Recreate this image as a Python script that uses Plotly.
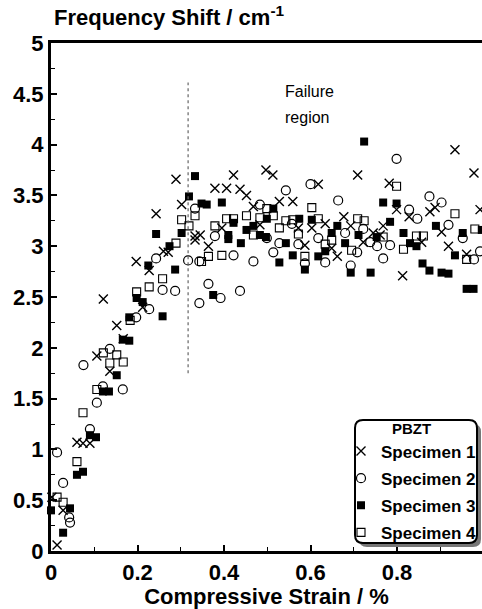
import plotly.graph_objects as go

# ---------------- data (strain %, frequency shift cm^-1) ----------------
s1_x = [0.002, 0.014, 0.028, 0.06, 0.074, 0.09, 0.106, 0.121, 0.136, 0.152, 0.167, 0.197, 0.212,
        0.227, 0.243, 0.26, 0.271, 0.289, 0.302, 0.333, 0.333, 0.345, 0.364, 0.379, 0.395, 0.406,
        0.422, 0.437, 0.452, 0.468, 0.483, 0.497, 0.513, 0.528, 0.559, 0.572, 0.587, 0.603, 0.618,
        0.634, 0.649, 0.662, 0.677, 0.693, 0.709, 0.722, 0.745, 0.761, 0.768, 0.782, 0.799, 0.813,
        0.828, 0.857, 0.876, 0.888, 0.903, 0.919, 0.934, 0.961, 0.978, 0.992]
s1_y = [0.53, 0.06, 0.40, 1.07, 1.06, 1.06, 1.92, 2.48, 1.77, 2.22, 2.09, 2.85, 2.40,
        2.76, 3.32, 2.95, 2.94, 3.66, 3.41, 3.06, 3.10, 3.11, 3.00, 3.57, 3.18, 3.57,
        3.70, 3.56, 3.50, 3.39, 3.21, 3.75, 3.70, 3.44, 3.44, 3.18, 3.01, 3.18, 3.61,
        3.22, 2.98, 2.90, 3.29, 3.20, 3.70, 3.04, 3.13, 3.11, 3.20, 3.62, 3.36, 2.71,
        3.29, 3.04, 3.34, 3.38, 3.14, 3.00, 3.95, 2.92, 3.72, 3.36]

s2_x = [0.014, 0.028, 0.042, 0.044, 0.075, 0.09, 0.106, 0.12, 0.136, 0.166, 0.197, 0.227, 0.243,
        0.258, 0.287, 0.317, 0.333, 0.343, 0.343, 0.364, 0.379, 0.392, 0.422, 0.437, 0.468, 0.483,
        0.499, 0.514, 0.528, 0.543, 0.557, 0.572, 0.587, 0.60, 0.618, 0.634, 0.664, 0.680, 0.693,
        0.708, 0.722, 0.738, 0.754, 0.768, 0.784, 0.799, 0.828, 0.847, 0.875, 0.903, 0.919, 0.952,
        0.978, 0.992]
s2_y = [0.97, 0.67, 0.33, 0.28, 1.83, 1.20, 1.46, 1.62, 1.99, 1.59, 2.30, 2.38, 2.88,
        2.57, 2.56, 2.86, 3.37, 2.85, 2.44, 2.63, 3.10, 2.49, 2.91, 2.56, 2.85, 3.41,
        3.08, 2.94, 3.03, 3.55, 3.22, 3.02, 2.83, 3.61, 3.08, 2.84, 3.45, 3.13, 2.81,
        2.94, 3.17, 3.04, 3.00, 2.88, 3.01, 3.86, 3.36, 3.27, 3.49, 3.43, 3.21, 3.08,
        2.87, 2.95]

s3_x = [0.0, 0.028, 0.044, 0.06, 0.074, 0.09, 0.104, 0.12, 0.134, 0.152, 0.166, 0.181, 0.181,
        0.198, 0.212, 0.225, 0.243, 0.258, 0.274, 0.287, 0.302, 0.319, 0.333, 0.348, 0.36, 0.375,
        0.395, 0.41, 0.41, 0.422, 0.439, 0.452, 0.468, 0.483, 0.497, 0.499, 0.514, 0.528, 0.543,
        0.559, 0.574, 0.587, 0.603, 0.618, 0.634, 0.649, 0.662, 0.680, 0.693, 0.711, 0.724, 0.739,
        0.753, 0.768, 0.784, 0.799, 0.815, 0.830, 0.845, 0.859, 0.875, 0.890, 0.903, 0.919, 0.934,
        0.952, 0.961, 0.977, 0.996]
s3_y = [0.40, 0.18, 0.42, 0.75, 0.78, 1.14, 1.12, 1.57, 1.57, 1.73, 2.08, 2.07, 2.30,
        2.49, 2.45, 2.81, 3.12, 2.31, 3.00, 2.77, 3.13, 3.49, 3.69, 3.42, 3.41, 2.52,
        3.43, 3.11, 3.07, 3.23, 3.03, 3.16, 3.20, 3.11, 3.09, 3.27, 3.37, 2.84, 3.03,
        2.91, 3.27, 2.77, 3.26, 2.90, 2.95, 3.13, 3.20, 3.03, 2.74, 3.11, 4.03, 2.74,
        3.09, 3.43, 3.24, 3.42, 3.13, 3.03, 3.00, 2.83, 2.76, 3.20, 2.74, 2.73, 2.91,
        3.13, 2.58, 2.58, 3.16]

s4_x = [0.014, 0.028, 0.06, 0.074, 0.106, 0.121, 0.136, 0.152, 0.167, 0.183, 0.198, 0.227, 0.258,
        0.289, 0.302, 0.319, 0.333, 0.348, 0.364, 0.379, 0.395, 0.406, 0.422, 0.452, 0.468, 0.483,
        0.499, 0.514, 0.528, 0.543, 0.559, 0.572, 0.587, 0.603, 0.618, 0.634, 0.649, 0.695, 0.709,
        0.724, 0.768, 0.799, 0.815, 0.845, 0.861, 0.934, 0.961, 0.980]
s4_y = [0.53, 0.48, 0.88, 1.36, 1.59, 1.95, 1.85, 1.93, 1.86, 2.27, 2.55, 2.60, 2.68,
        3.03, 3.26, 3.20, 3.30, 2.85, 2.90, 3.20, 2.91, 3.27, 3.27, 3.30, 3.11, 3.28,
        3.37, 3.30, 3.18, 3.25, 3.26, 3.12, 2.90, 3.38, 3.27, 3.02, 3.06, 2.96, 3.27,
        3.25, 3.09, 3.59, 2.97, 3.10, 3.10, 3.32, 2.87, 3.17]

series_names = ["Specimen 1", "Specimen 2", "Specimen 3", "Specimen 4"]
x_ticks = [0, 0.2, 0.4, 0.6, 0.8]
x_ticklabels = ["0", "0.2", "0.4", "0.6", "0.8"]
y_ticks = [0, 0.5, 1, 1.5, 2, 2.5, 3, 3.5, 4, 4.5, 5]
y_ticklabels = ["0", "0.5", "1", "1.5", "2", "2.5", "3", "3.5", "4", "4.5", "5"]
failure_x = 0.317
failure_y = [1.75, 4.61]

FONT = "Liberation Sans, Arial, Helvetica, sans-serif"

# ---------------- geometry ----------------
W, H = 482, 609
L, R, T, B = 51, 0, 43, 58
PW, PH = W - L - R, H - T - B
X_MAX = (W - L) / 432.5  # axis scale: 432.5 px per unit strain


def px_x(p):
    return (p - L) / PW


def px_y(p):
    return (H - B - p) / PH


fig = go.Figure()

styles = [
    dict(symbol="x-thin-open", size=9, color="black", line=dict(width=1.4, color="black")),
    dict(symbol="circle-open", size=9, color="black", line=dict(width=1.2, color="black")),
    dict(symbol="square", size=8, color="black", line=dict(width=0, color="black")),
    dict(symbol="square-open", size=8, color="black", line=dict(width=1.1, color="black")),
]
for i, (name, xs, ys, st) in enumerate(zip(series_names, [s1_x, s2_x, s3_x, s4_x],
                                           [s1_y, s2_y, s3_y, s4_y], styles)):
    fig.add_trace(go.Scatter(x=xs, y=ys, mode="markers", name=name, marker=st,
                             legendgroup=f"g{i}", cliponaxis=False))

# dotted failure line
fig.add_shape(type="line", xref="x", yref="y", x0=failure_x, x1=failure_x,
              y0=failure_y[0], y1=failure_y[1],
              line=dict(color="#666", width=1.2, dash="dot"))

fig.add_annotation(x=0.536, y=4.52, xref="x", yref="y", text="Failure", showarrow=False,
                   xanchor="left", yanchor="middle", font=dict(family=FONT, size=16, color="black"))
fig.add_annotation(x=0.536, y=4.27, xref="x", yref="y", text="region", showarrow=False,
                   xanchor="left", yanchor="middle", font=dict(family=FONT, size=16, color="black"))

# y title at top left
fig.add_annotation(x=px_x(52), y=px_y(32), xref="paper", yref="paper",
                   text="Frequency Shift / cm<sup>-1</sup>", showarrow=False,
                   xanchor="left", yanchor="bottom",
                   font=dict(family=FONT, size=22, color="black", weight="bold"))


# legend box (rounded with shadow)
def rrect(x0, y0, x1, y1, r=8):
    a0, a1 = px_x(x0), px_x(x1)
    b0, b1 = px_y(y1), px_y(y0)
    rx, ry = r / PW, r / PH
    return (f"M {a0+rx},{b0} L {a1-rx},{b0} Q {a1},{b0} {a1},{b0+ry} "
            f"L {a1},{b1-ry} Q {a1},{b1} {a1-rx},{b1} L {a0+rx},{b1} "
            f"Q {a0},{b1} {a0},{b1-ry} L {a0},{b0+ry} Q {a0},{b0} {a0+rx},{b0} Z")


fig.add_shape(type="path", xref="paper", yref="paper", path=rrect(359, 424, 481, 547),
              fillcolor="#777", line=dict(width=0), layer="above")
fig.add_shape(type="path", xref="paper", yref="paper", path=rrect(355, 420, 477, 543),
              fillcolor="white", line=dict(width=2, color="black"), layer="above")

fig.update_layout(
    width=W, height=H,
    margin=dict(l=L, r=R, t=T, b=B, pad=0, autoexpand=False),
    paper_bgcolor="white", plot_bgcolor="white",
    showlegend=True,
    legend=dict(
        x=px_x(341), y=px_y(414), xanchor="left", yanchor="top",
        bgcolor="rgba(0,0,0,0)", borderwidth=0,
        font=dict(family=FONT, size=17, color="black", weight="bold"),
        title=dict(text="PBZT", side="top center",
                   font=dict(family=FONT, size=15, color="black", weight="bold")),
        itemwidth=30, tracegroupgap=2,
    ),
    xaxis=dict(
        range=[0, X_MAX], showgrid=False, zeroline=False,
        showline=True, linewidth=3, linecolor="black", mirror=True,
        ticks="inside", ticklen=6, tickwidth=1.5, tickcolor="black",
        tickvals=x_ticks, ticktext=x_ticklabels,
        minor=dict(dtick=0.1, ticks="inside", ticklen=4, tickwidth=1.2, tickcolor="black"),
        tickfont=dict(family=FONT, size=22, color="black", weight="bold"),
        title=dict(text="Compressive Strain / %", standoff=6,
                   font=dict(family=FONT, size=22, color="black", weight="bold")),
    ),
    yaxis=dict(
        range=[0, 5], showgrid=False, zeroline=False,
        showline=True, linewidth=3, linecolor="black", mirror=False,
        ticks="inside", ticklen=6, tickwidth=1.5, tickcolor="black",
        tickvals=y_ticks, ticktext=y_ticklabels,
        minor=dict(dtick=0.25, ticks="inside", ticklen=4, tickwidth=1.2, tickcolor="black"),
        tickfont=dict(family=FONT, size=22, color="black", weight="bold"),
    ),
)

fig.write_html("out.html")
